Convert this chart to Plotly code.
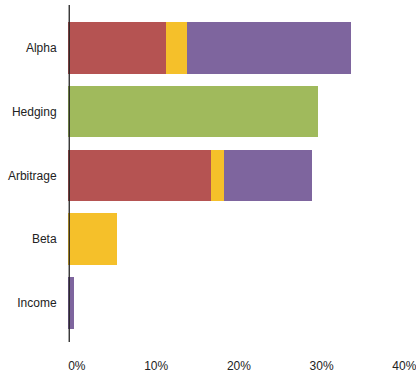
import plotly.graph_objects as go

categories = ["Alpha", "Hedging", "Arbitrage", "Beta", "Income"]
red_vals = [11.9, None, 17.3, None, None]
yellow_vals = [2.5, None, 1.6, 5.9, None]
purple_vals = [19.8, None, 10.6, None, 0.7]
green_vals = [None, 30.2, None, None, None]
x_tick_vals = [0, 10, 20, 30, 40]
x_tick_text = ["0%", "10%", "20%", "30%", "40%"]

series = [
    ("Red", red_vals, "#B55352"),
    ("Yellow", yellow_vals, "#F5C02A"),
    ("Purple", purple_vals, "#7E659E"),
    ("Green", green_vals, "#A0BA5C"),
]

fig = go.Figure()
for name, vals, color in series:
    fig.add_trace(go.Bar(
        y=categories, x=vals, name=name, orientation="h",
        marker=dict(color=color, line=dict(width=0)),
        width=0.81, hoverinfo="x+y",
    ))

fig.add_shape(type="line", xref="x", yref="paper", x0=0.15, x1=0.15, y0=0, y1=1,
              line=dict(color="#222222", width=1.3))

fig.update_layout(
    width=416, height=372,
    margin=dict(l=68, r=5, t=5, b=30),
    barmode="stack",
    showlegend=False,
    plot_bgcolor="white", paper_bgcolor="white",
    font=dict(family="Liberation Sans, Arial, sans-serif", size=12, color="#222222"),
    xaxis=dict(range=[0, 41.47], tickvals=x_tick_vals, ticktext=x_tick_text,
               showgrid=False, zeroline=False, showline=False,
               ticks="outside", ticklen=8, tickcolor="rgba(0,0,0,0)",
               ticklabelposition="outside left", ticklabelshift=18,
               ticklabelstandoff=13,
               ticklabeloverflow="allow", automargin=False),
    yaxis=dict(categoryorder="array", categoryarray=categories,
               range=[4.609, -0.669], showgrid=False, zeroline=False, showline=False,
               ticks="outside", ticklen=8, tickcolor="rgba(0,0,0,0)",
               automargin=False),
)

fig.write_html("out.html", config={"displayModeBar": False},
               post_script="document.body.style.margin='0';document.body.style.overflow='hidden';")
